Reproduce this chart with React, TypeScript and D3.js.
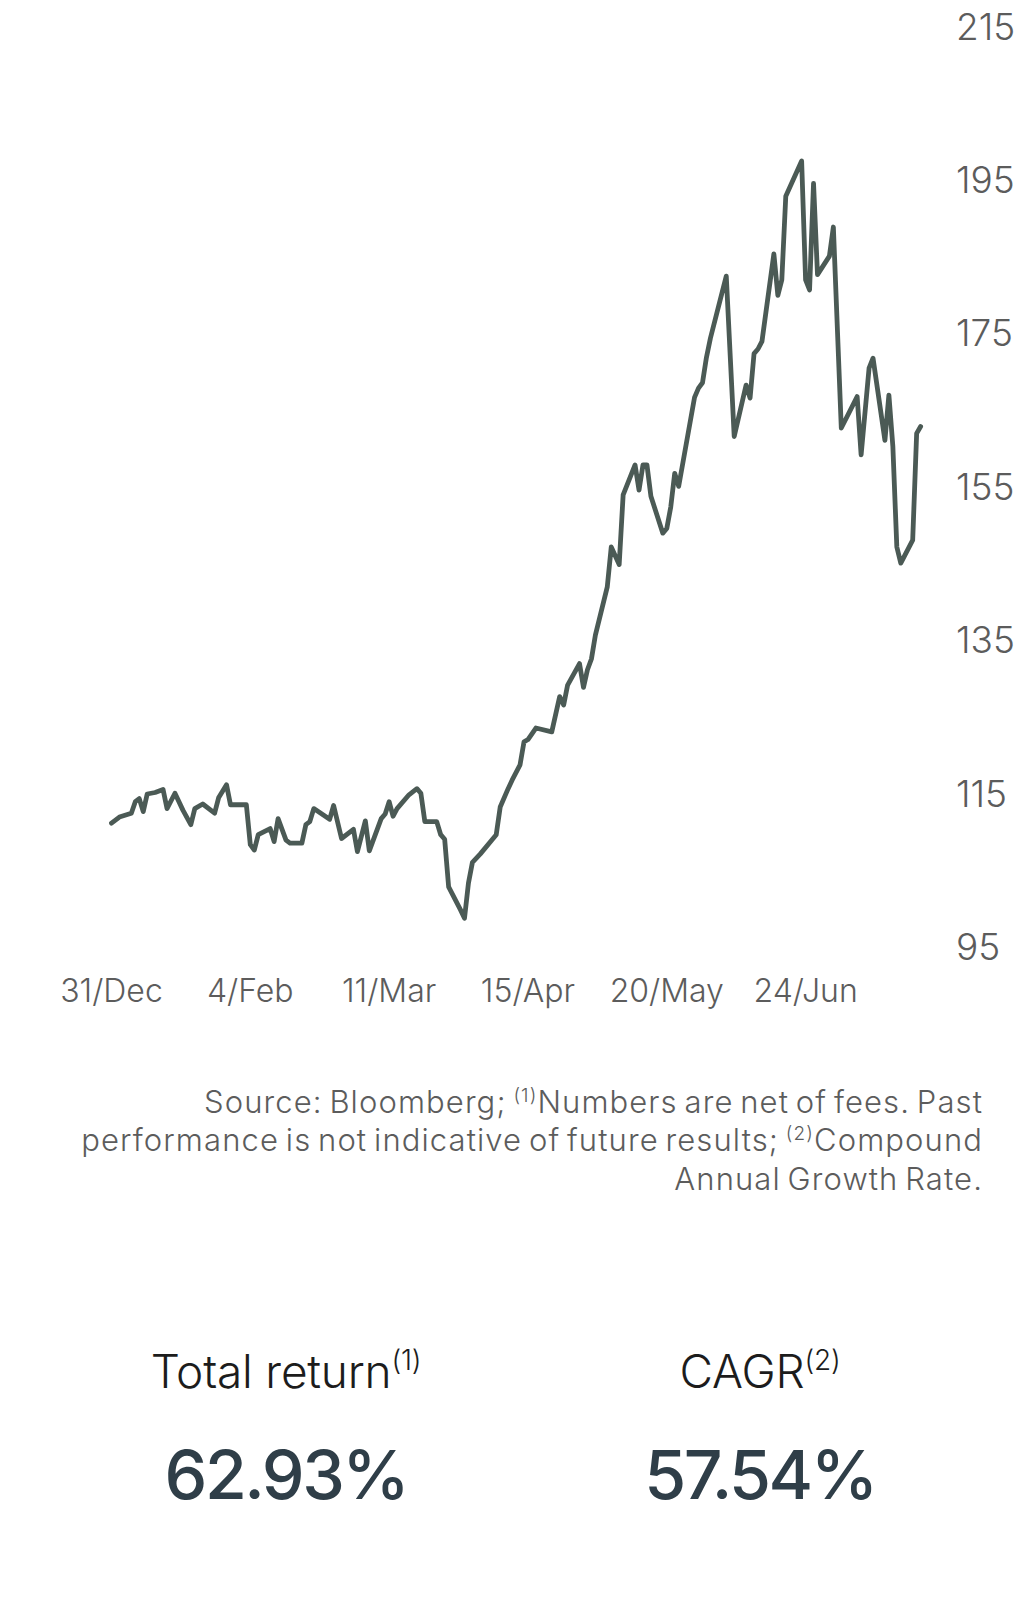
import * as d3 from 'd3'
import { useMemo } from 'react'

// calendar days since 31/Dec and the index level
const days = [
  0, 2, 5, 6, 7, 8, 9, 11, 13, 14, 16, 18, 20, 21, 23, 26, 27, 29, 30, 34,
  35, 36, 37, 40, 41, 42, 44, 45, 48, 49, 50, 51, 55, 56, 58, 61, 62, 64, 65, 68,
  69, 70, 71, 72, 75, 77, 78, 79, 82, 83, 84, 85, 88, 89, 90, 91, 93, 97, 98, 100,
  101, 103, 104, 105, 107, 111, 113, 114, 115, 118, 119, 120, 121, 122, 125, 126, 128, 129, 132, 133,
  134, 135, 136, 139, 140, 141, 142, 143, 147, 148, 149, 150, 151, 155, 157, 160, 161, 162, 163, 164,
  167, 168, 169, 170, 174, 175, 176, 177, 178, 181, 182, 184, 188, 189, 191, 192, 195, 196, 197, 198,
  199, 202, 203, 204,
]
const values = [
  111.1, 111.9, 112.4, 113.9, 114.3, 112.6, 114.9, 115.1, 115.5, 113.0, 115.0, 112.8, 110.9, 113.0, 113.6, 112.4, 114.4, 116.1, 113.5, 113.5,
  108.3, 107.6, 109.6, 110.4, 108.7, 111.7, 108.9, 108.5, 108.5, 110.9, 111.3, 113.0, 111.6, 113.4, 109.1, 110.3, 107.4, 111.4, 107.5, 111.7,
  112.3, 113.9, 112.0, 113.0, 114.8, 115.6, 115.0, 111.3, 111.3, 109.6, 109.0, 102.8, 99.8, 98.7, 103.3, 106.0, 107.1, 109.6, 113.2, 115.6,
  116.7, 118.7, 121.7, 122.0, 123.5, 123.0, 127.6, 126.5, 129.1, 131.9, 128.8, 131.1, 132.5, 135.6, 141.9, 147.1, 144.8, 153.9, 157.8, 154.5,
  157.8, 157.8, 153.7, 148.9, 149.5, 152.3, 156.7, 155.0, 166.6, 167.8, 168.5, 171.8, 174.3, 182.4, 161.5, 168.2, 166.5, 172.3, 172.9, 173.9,
  185.3, 179.9, 181.9, 192.8, 197.4, 181.9, 180.6, 194.5, 182.6, 185.0, 188.8, 162.6, 166.7, 159.1, 170.4, 171.7, 161.0, 166.9, 160.2, 147.1,
  145.0, 148.0, 161.9, 162.8,
]

const xTickDays = [0, 35, 70, 105, 140, 175]
const xTickLabels = ['31/Dec', '4/Feb', '11/Mar', '15/Apr', '20/May', '24/Jun']
const yTicks = [95, 115, 135, 155, 175, 195, 215]

const footnote = [
  [{ t: 'Source: Bloomberg; ' }, { t: '(1)', sup: true }, { t: 'Numbers are net of fees. Past' }],
  [{ t: 'performance is not indicative of future results; ' }, { t: '(2)', sup: true }, { t: 'Compound' }],
  [{ t: 'Annual Growth Rate.' }],
]

const stats = [
  { label: 'Total return', note: '(1)', value: '62.93%' },
  { label: 'CAGR', note: '(2)', value: '57.54%' },
]

const FONT = 'Inter, "Open Sans", sans-serif'

export default function App() {
  const width = 1021
  const height = 1607

  const x = d3.scaleLinear().domain([0, 175]).range([111.5, 805.6])
  const y = d3.scaleLinear().domain([95, 215]).range([946.7, 26])

  const path = useMemo(() => {
    const line = d3
      .line<number>()
      .x((_, i) => x(days[i]))
      .y((v) => y(v))
    return line(values) || undefined
  }, [])

  const statX = [286, 760]

  return (
    <svg
      width={width}
      height={height}
      style={{ position: 'absolute', left: 0, top: 0, background: '#fff' }}
      fontFamily={FONT}
    >
      {/* y axis labels, right side */}
      <g fill="#5c5c5c" fontSize={37} fontWeight={300}>
        {yTicks.map((t) => (
          <text key={t} x={956} y={y(t) + 13.5}>
            {t}
          </text>
        ))}
      </g>

      {/* x axis labels */}
      <g fill="#5c5c5c" fontSize={32} fontWeight={300} textAnchor="middle">
        {xTickDays.map((d, i) => (
          <text key={d} x={x(d)} y={1002}>
            {xTickLabels[i]}
          </text>
        ))}
      </g>

      <path
        d={path}
        fill="none"
        stroke="#4b5a55"
        strokeWidth={4.8}
        strokeLinejoin="round"
        strokeLinecap="round"
      />

      {/* footnote */}
      <g fill="#5c5c5c" fontSize={31} fontWeight={300} textAnchor="end">
        {footnote.map((parts, i) => (
          <text key={i} x={983} y={1113 + i * 38.3} letterSpacing={1.1} wordSpacing={-3}>
            {parts.map((p, j) =>
              p.sup ? (
                <tspan key={j} fontSize={19} dy={-11}>
                  {p.t}
                </tspan>
              ) : (
                <tspan key={j} dy={j > 0 && parts[j - 1].sup ? 11 : 0}>
                  {p.t}
                </tspan>
              ),
            )}
          </text>
        ))}
      </g>

      {/* summary figures */}
      {stats.map((s, i) => (
        <g key={s.label} textAnchor="middle">
          <text x={statX[i]} y={1388} fontSize={46} fontWeight={300} fill="#1c1c1c" letterSpacing={-0.2}>
            {s.label}
            <tspan fontSize={28} dy={-18}>
              {s.note}
            </tspan>
          </text>
          <text x={statX[i]} y={1499} fontSize={68} fontWeight={500} fill="#2f3e48" letterSpacing={-2.5}>
            {s.value}
          </text>
        </g>
      ))}
    </svg>
  )
}
